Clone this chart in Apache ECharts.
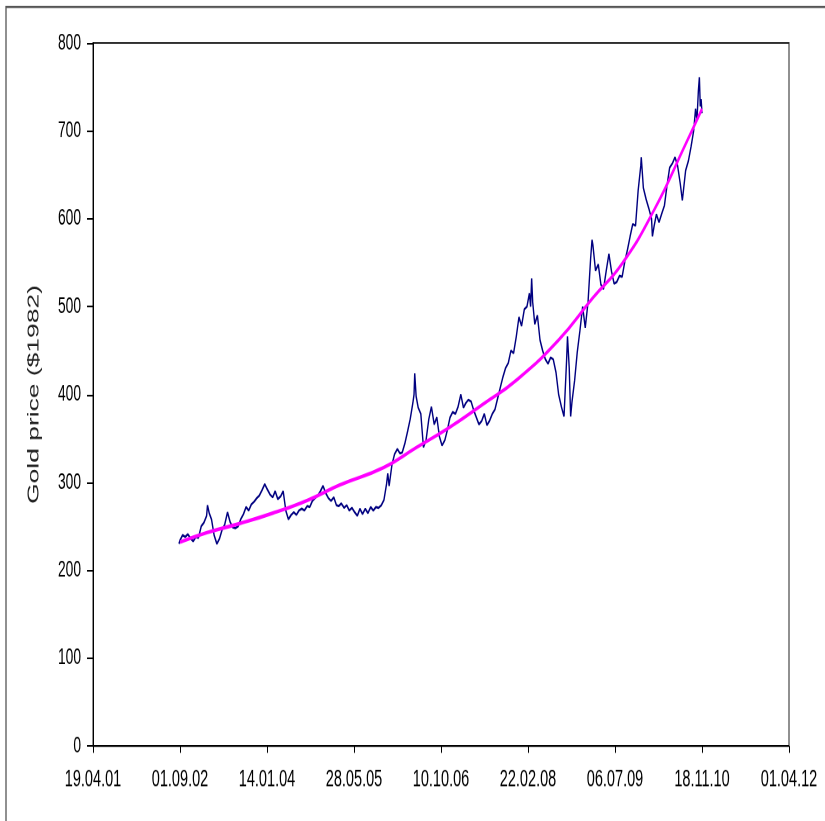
<!DOCTYPE html>
<html>
<head>
<meta charset="utf-8">
<script src="https://cdn.jsdelivr.net/npm/echarts@6/dist/echarts.min.js"></script>
<style>
html,body{margin:0;padding:0;background:#fff;}
#wrap{width:825px;height:821px;overflow:hidden;position:relative;background:#fff;}
#chart{width:825px;height:497px;transform:scaleY(1.6519);transform-origin:0 0;}
</style>
</head>
<body>
<div id="wrap"><div id="chart"></div></div>
<script>
// Gold price (1982 dollars)
const priceDates = [
'2002-08-26','2002-09-01','2002-09-16','2002-10-01','2002-10-16','2002-11-01','2002-11-16','2002-12-01','2002-12-16',
'2003-01-01','2003-01-16','2003-02-01','2003-02-06','2003-02-16','2003-03-01','2003-03-16','2003-04-01','2003-04-16',
'2003-05-01','2003-05-16','2003-06-01','2003-06-16','2003-07-01','2003-07-16','2003-08-01','2003-08-16','2003-09-01',
'2003-09-16','2003-10-01','2003-10-16','2003-11-01','2003-11-16','2003-12-01','2003-12-16',
'2004-01-01','2004-01-16','2004-02-01','2004-02-16','2004-03-01','2004-03-16','2004-04-01','2004-04-16','2004-05-01',
'2004-05-16','2004-06-01','2004-06-16','2004-07-01','2004-07-16','2004-08-01','2004-08-16','2004-09-01','2004-09-16',
'2004-10-01','2004-10-16','2004-11-01','2004-11-16','2004-12-01','2004-12-10','2004-12-16',
'2005-01-01','2005-01-16','2005-02-01','2005-02-16','2005-03-01','2005-03-16','2005-04-01','2005-04-16','2005-05-01',
'2005-05-16','2005-06-01','2005-06-16','2005-07-01','2005-07-16','2005-08-01','2005-08-16','2005-09-01','2005-09-16',
'2005-10-01','2005-10-16','2005-11-01','2005-11-16','2005-12-01','2005-12-08','2005-12-16',
'2006-01-01','2006-01-16','2006-02-01','2006-02-16','2006-03-01','2006-03-16','2006-04-01','2006-04-16','2006-05-01',
'2006-05-08','2006-05-12','2006-05-20','2006-06-01','2006-06-16','2006-07-01','2006-07-16','2006-08-01','2006-08-16',
'2006-09-01','2006-09-16','2006-10-01','2006-10-16','2006-11-01','2006-11-16','2006-12-01','2006-12-16',
'2007-01-01','2007-01-16','2007-02-01','2007-02-16','2007-03-01','2007-03-16','2007-04-01','2007-04-16','2007-05-01',
'2007-05-16','2007-06-01','2007-06-16','2007-07-01','2007-07-16','2007-08-01','2007-08-16','2007-09-01','2007-09-16',
'2007-10-01','2007-10-16','2007-11-01','2007-11-16','2007-12-01','2007-12-16',
'2008-01-01','2008-01-16','2008-02-01','2008-02-16','2008-03-01','2008-03-08','2008-03-14','2008-03-20','2008-04-01',
'2008-04-16','2008-05-01','2008-05-16','2008-06-01','2008-06-16','2008-07-01','2008-07-16','2008-08-01','2008-08-16',
'2008-09-01','2008-09-16','2008-10-01','2008-10-06','2008-10-16','2008-10-24','2008-11-01','2008-11-16','2008-12-01',
'2008-12-16',
'2009-01-01','2009-01-16','2009-02-01','2009-02-16','2009-02-24','2009-03-01','2009-03-16','2009-04-01','2009-04-16',
'2009-05-01','2009-05-16','2009-06-01','2009-06-16','2009-07-01','2009-07-16','2009-08-01','2009-08-16','2009-09-01',
'2009-09-16','2009-10-01','2009-10-16','2009-11-01','2009-11-16','2009-12-01','2009-12-04','2009-12-16',
'2010-01-01','2010-01-16','2010-02-01','2010-02-06','2010-02-16','2010-03-01','2010-03-16','2010-04-01','2010-04-16',
'2010-05-01','2010-05-16','2010-06-01','2010-06-16','2010-07-01','2010-07-16','2010-07-28','2010-08-01','2010-08-16',
'2010-09-01','2010-09-16','2010-10-01','2010-10-12','2010-10-20','2010-10-28','2010-11-03','2010-11-08','2010-11-13',
'2010-11-18'
];
const priceValues = [
230,234,240,238,241,236,233,238,237,
250,254,262,274,265,258,240,230,236,
246,252,266,255,249,248,250,258,264,
272,268,275,278,282,285,291,
298,292,286,283,290,281,284,290,268,
258,263,266,263,268,270,268,273,272,
279,282,285,290,296,298,288,
282,279,283,274,273,276,271,274,268,
271,266,262,270,264,270,265,272,268,
272,271,274,280,298,310,296,
320,332,338,333,334,344,358,372,390,
400,424,398,385,378,340,348,372,386,
366,374,352,342,348,360,374,380,
378,386,400,385,390,394,392,382,374,
366,370,378,365,370,378,383,396,408,
420,430,436,450,447,465,
488,478,497,500,515,500,532,505,480,
490,462,450,440,435,442,440,425,400,
386,375,440,466,430,375,392,416,448,
472,
500,476,505,555,576,570,541,548,525,
520,540,560,540,526,528,535,534,552,
565,580,594,592,632,660,670,635,
622,612,600,580,592,605,596,606,615,
638,658,663,670,660,640,621,628,655,
666,682,700,725,712,745,761,728,736,
720
];

// Trend line (magenta)
const trendDates = ['2002-09-01','2003-02-06','2003-08-07','2004-02-16','2004-09-07','2005-03-07','2005-11-16','2006-05-16',
'2006-12-01','2007-06-16','2007-12-16','2008-08-16','2009-03-01','2009-08-16','2010-02-16','2010-08-16','2010-11-18'];
const trendValues = [232,243,253,265,280,297,317,339,363,390,416,462,510,549,610,685,725];

// Axis settings
const xStart = '2001-04-19';
const xEnd = '2012-04-01';
const xStepDays = 500;
const yTicks = [0,100,200,300,400,500,600,700,800];

const DAY = 86400000;
const pad = n => (n < 10 ? '0' : '') + n;
function fmtDate(v) {
  const d = new Date(v);
  return pad(d.getUTCDate()) + '.' + pad(d.getUTCMonth() + 1) + '.' + pad(d.getUTCFullYear() % 100);
}

const chart = echarts.init(document.getElementById('chart'), null, {renderer: 'canvas', devicePixelRatio: 2});
const font = 'Liberation Sans, Arial, sans-serif';
chart.setOption({
  animation: false,
  backgroundColor: '#fff',
  graphic: [{
    type: 'rect', silent: true,
    shape: {x: 6, y: 4.2, width: 840, height: 620},
    style: {fill: 'none', stroke: '#555', lineWidth: 1.3}
  }],
  grid: {left: 93, right: 36, top: 26, bottom: 45.4, show: true, borderColor: '#222', borderWidth: 1,
         containLabel: false, outerBoundsMode: 'none'},
  xAxis: {
    type: 'value',
    min: Date.parse(xStart), max: Date.parse(xEnd), interval: xStepDays * DAY,
    splitLine: {show: false},
    axisLine: {lineStyle: {color: '#000', width: 1}},
    axisTick: {show: true, length: 4.2, lineStyle: {color: '#000'}},
    axisLabel: {formatter: fmtDate, fontFamily: font, fontSize: 14.5, color: '#000', margin: 13,
                showMinLabel: true, showMaxLabel: true}
  },
  yAxis: {
    type: 'value', min: yTicks[0], max: yTicks[yTicks.length - 1], interval: yTicks[1] - yTicks[0],
    name: 'Gold price ($1982)', nameLocation: 'middle', nameGap: 51,
    nameTextStyle: {fontFamily: font, fontSize: 16, fontWeight: 'normal', color: '#222'},
    splitLine: {show: false},
    axisLine: {show: true, lineStyle: {color: '#000', width: 1}},
    axisTick: {show: true, length: 6, lineStyle: {color: '#000'}},
    axisLabel: {fontFamily: font, fontSize: 13.8, color: '#000', margin: 12}
  },
  series: [
    {
      type: 'line', name: 'Gold price', showSymbol: false, symbol: 'none',
      data: priceDates.map((d, i) => [Date.parse(d), priceValues[i]]),
      lineStyle: {color: '#000080', width: 1.4}, itemStyle: {color: '#000080'}, z: 2
    },
    {
      type: 'line', name: 'Trend', showSymbol: false, symbol: 'none', smooth: 0.5,
      data: trendDates.map((d, i) => [Date.parse(d), trendValues[i]]),
      lineStyle: {color: '#FF00FF', width: 2.2}, itemStyle: {color: '#FF00FF'}, z: 3
    }
  ]
});
</script>
</body>
</html>
